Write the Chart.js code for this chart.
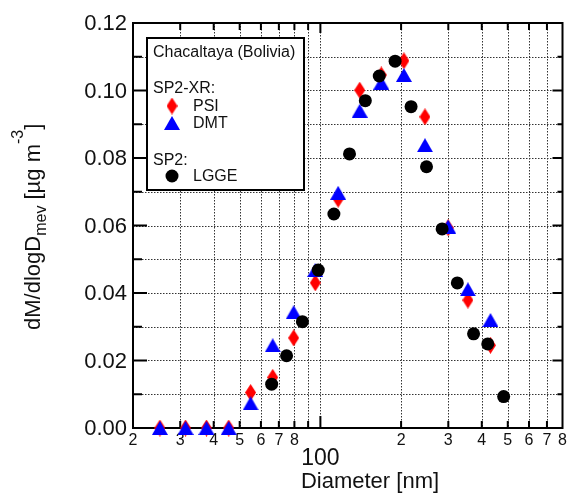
<!DOCTYPE html>
<html>
<head>
<meta charset="utf-8">
<script src="https://cdn.jsdelivr.net/npm/chart.js@4.4.0/dist/chart.umd.min.js"></script>
<style>
  html, body { margin: 0; padding: 0; background: #fff; }
  #wrap { width: 569px; height: 498px; position: relative; }
</style>
</head>
<body>
<div id="wrap"><canvas id="chart"></canvas></div>
<script>
// SP2-XR instruments share the same size bins
const sp2xrDiameters = [25.2, 31.4, 37.6, 45.5, 54.9, 66.4, 79.5, 95.7, 116.5, 140.2, 168.7, 204.9, 245.5, 299.5, 355, 430.9];
const psiValues = [0, 0, 0, 0, 0.0105, 0.0150, 0.0267, 0.0430, 0.0678, 0.1001, 0.1046, 0.1088, 0.0922, 0.0593, 0.0379, 0.0245];
const dmtValues = [0, 0, 0, 0, 0.0073, 0.0245, 0.0343, 0.0468, 0.0697, 0.0940, 0.1023, 0.1046, 0.0838, 0.0597, 0.0411, 0.0320];

const lggeDiameters = [65.8, 74.8, 85.7, 98.2, 112.3, 128.4, 147.1, 165.8, 190, 217.9, 248.8, 284.5, 324.2, 372.7, 421, 482.6];
const lggeValues = [0.0130, 0.0214, 0.0315, 0.0468, 0.0634, 0.0812, 0.0970, 0.1043, 0.1087, 0.0952, 0.0774, 0.0590, 0.0430, 0.0279, 0.0249, 0.0093];

const xTickValues = [20, 30, 40, 50, 60, 70, 80, 100, 200, 300, 400, 500, 600, 700, 800];
const xTickLabels = ['2', '3', '4', '5', '6', '7', '8', '100', '2', '3', '4', '5', '6', '7', '8'];
const xGridValues = [30, 40, 50, 60, 70, 80, 90, 100, 200, 300, 400, 500, 600, 700];
const xMinorTicks = [30, 40, 50, 60, 70, 80, 90, 200, 300, 400, 500, 600, 700];
const yTickValues = [0, 0.02, 0.04, 0.06, 0.08, 0.10, 0.12];
const yGridValues = [0.01, 0.02, 0.03, 0.04, 0.05, 0.06, 0.07, 0.08, 0.09, 0.10, 0.11];

const FONT = '"Liberation Sans", Arial, sans-serif';

function makeMarker(w, h, draw) {
  const c = document.createElement('canvas');
  c.width = w; c.height = h;
  draw(c.getContext('2d'), w, h);
  return c;
}

const diamond = makeMarker(11, 17, (g, w, h) => {
  g.fillStyle = '#ff0000';
  g.beginPath();
  g.moveTo(w / 2, 0); g.lineTo(w, h / 2); g.lineTo(w / 2, h); g.lineTo(0, h / 2);
  g.closePath(); g.fill();
});
const triangle = makeMarker(16, 14, (g, w, h) => {
  g.fillStyle = '#0000ff';
  g.beginPath();
  g.moveTo(w / 2, 0); g.lineTo(w, h); g.lineTo(0, h);
  g.closePath(); g.fill();
});

function pairs(xs, ys) {
  return xs.map((x, i) => ({x: x, y: ys[i]}));
}

const axesPlugin = {
  id: 'axesPlugin',
  beforeDatasetsDraw(chart) {
    const {ctx, chartArea: a, scales: {x, y}} = chart;
    ctx.save();

    // dotted grid
    ctx.strokeStyle = '#333';
    ctx.lineWidth = 1;
    ctx.setLineDash([1.5, 1.5]);
    xGridValues.forEach(v => {
      const px = Math.round(x.getPixelForValue(v)) + 0.5;
      ctx.beginPath(); ctx.moveTo(px, a.top); ctx.lineTo(px, a.bottom); ctx.stroke();
    });
    yGridValues.forEach(v => {
      const py = Math.round(y.getPixelForValue(v)) + 0.5;
      ctx.beginPath(); ctx.moveTo(a.left, py); ctx.lineTo(a.right, py); ctx.stroke();
    });
    ctx.setLineDash([]);

    // tick marks (inward)
    ctx.strokeStyle = '#000';
    ctx.lineWidth = 2;
    yGridValues.concat([0.12]).forEach(v => {
      const py = y.getPixelForValue(v);
      const major = Math.abs(Math.round(v * 100) % 2) === 0;
      ctx.beginPath();
      ctx.moveTo(a.left, py); ctx.lineTo(a.left + (major ? 14 : 9), py);
      ctx.moveTo(a.right, py); ctx.lineTo(a.right - (major ? 10 : 5), py);
      ctx.stroke();
    });
    xMinorTicks.forEach(v => {
      const px = x.getPixelForValue(v);
      ctx.beginPath();
      ctx.moveTo(px, a.bottom); ctx.lineTo(px, a.bottom - 7);
      ctx.moveTo(px, a.top); ctx.lineTo(px, a.top + 7);
      ctx.stroke();
    });
    const p100 = x.getPixelForValue(100);
    ctx.beginPath();
    ctx.moveTo(p100, a.bottom); ctx.lineTo(p100, a.bottom - 12);
    ctx.moveTo(p100, a.top); ctx.lineTo(p100, a.top + 10);
    ctx.stroke();

    // frame
    ctx.strokeRect(a.left, a.top, a.right - a.left, a.bottom - a.top);

    // y tick labels
    ctx.fillStyle = '#111';
    ctx.font = '22px ' + FONT;
    ctx.textAlign = 'right';
    ctx.textBaseline = 'middle';
    yTickValues.forEach(v => {
      ctx.fillText(v.toFixed(2), a.left - 6, y.getPixelForValue(v) + 1);
    });

    // x tick labels
    ctx.textAlign = 'center';
    xTickValues.forEach((v, i) => {
      const px = x.getPixelForValue(v);
      if (xTickLabels[i] === '100') {
        ctx.font = '23px ' + FONT;
        ctx.fillText(xTickLabels[i], px, a.bottom + 31);
      } else {
        ctx.font = '16px ' + FONT;
        ctx.fillText(xTickLabels[i], px, a.bottom + 13);
      }
    });

    // x title
    ctx.font = '22px ' + FONT;
    ctx.fillText('Diameter [nm]', 370, a.bottom + 54);

    // y title with subscript and superscript
    ctx.translate(40, 330);
    ctx.rotate(-Math.PI / 2);
    ctx.textAlign = 'left';
    ctx.textBaseline = 'alphabetic';
    let cx = 0;
    const part = (txt, size, dy) => {
      ctx.font = size + 'px ' + FONT;
      ctx.fillText(txt, cx, dy);
      cx += ctx.measureText(txt).width;
    };
    part('dM/dlogD', 22, 0);
    part('mev', 16, 6);
    part(' [µg m', 22, 0);
    part('-3', 16, -17);
    part(']', 22, 0);
    ctx.restore();
  },
  afterDatasetsDraw(chart) {
    const {ctx} = chart;
    ctx.save();
    // legend box
    ctx.fillStyle = '#fff';
    ctx.fillRect(147, 38, 157, 152);
    ctx.strokeStyle = '#000';
    ctx.lineWidth = 2;
    ctx.strokeRect(147, 38, 157, 152);
    ctx.fillStyle = '#111';
    ctx.font = '16px ' + FONT;
    ctx.textAlign = 'left';
    ctx.textBaseline = 'middle';
    ctx.fillText('Chacaltaya (Bolivia)', 153, 53);
    ctx.fillText('SP2-XR:', 153, 89);
    ctx.fillText('PSI', 193, 107);
    ctx.fillText('DMT', 193, 124);
    ctx.fillText('SP2:', 153, 161);
    ctx.fillText('LGGE', 193, 177);
    ctx.drawImage(diamond, 172 - diamond.width / 2, 106 - diamond.height / 2);
    ctx.drawImage(triangle, 172 - triangle.width / 2, 123 - triangle.height / 2);
    ctx.fillStyle = '#000';
    ctx.beginPath();
    ctx.arc(172, 176, 6.5, 0, Math.PI * 2);
    ctx.fill();
    ctx.restore();
  }
};

new Chart(document.getElementById('chart'), {
  type: 'scatter',
  data: {
    datasets: [
      {label: 'LGGE', data: pairs(lggeDiameters, lggeValues), pointStyle: 'circle', pointRadius: 6.5,
        backgroundColor: '#000', borderColor: '#000', borderWidth: 0, order: 1},
      {label: 'DMT', data: pairs(sp2xrDiameters, dmtValues), pointStyle: triangle, order: 2},
      {label: 'PSI', data: pairs(sp2xrDiameters, psiValues), pointStyle: diamond, order: 3}
    ]
  },
  options: {
    responsive: true,
    maintainAspectRatio: false,
    animation: false,
    clip: false,
    layout: {padding: {left: 133, top: 23, right: 4, bottom: 70}},
    plugins: {legend: {display: false}, tooltip: {enabled: false}},
    scales: {
      x: {type: 'logarithmic', min: 20, max: 800, display: false},
      y: {type: 'linear', min: 0, max: 0.12, display: false}
    }
  },
  plugins: [axesPlugin]
});
</script>
</body>
</html>
